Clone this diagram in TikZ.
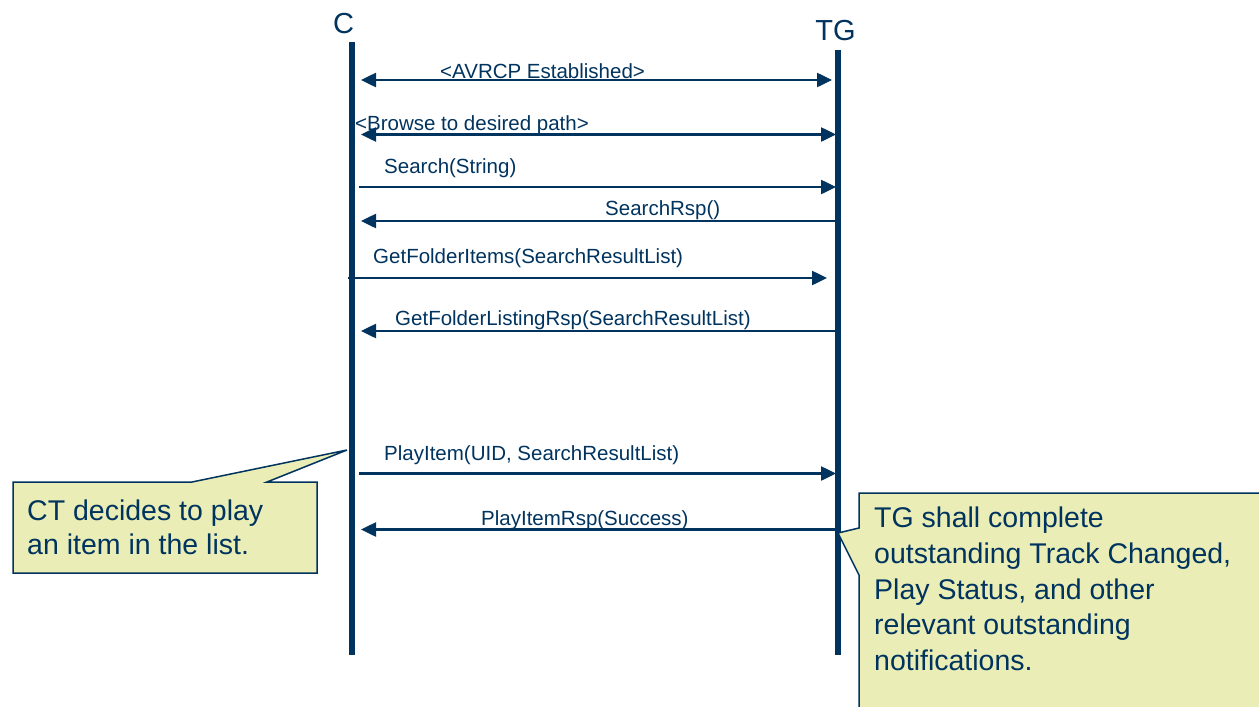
\documentclass[tikz,border=0pt]{standalone}
\usepackage{fontspec}
\setmainfont{Liberation Sans}
\definecolor{seqnavy}{RGB}{0,51,94}
\definecolor{notefill}{RGB}{234,238,182}
\usetikzlibrary{arrows.meta}

\begin{document}
\begin{tikzpicture}[x=1pt, y=-1pt,
  every node/.style={text=seqnavy, inner sep=0pt},
  lifeline/.style={seqnavy, line width=5.5pt},
  msgline/.style={seqnavy, line width=2.5pt, -{Triangle[length=15pt,width=14pt]}},
  msgboth/.style={msgline, {Triangle[length=15pt,width=14pt]}-{Triangle[length=15pt,width=14pt]}},
  msglabel/.style={anchor=base west, font=\fontsize{20.5}{24}\selectfont},
  partlabel/.style={anchor=base, font=\fontsize{29}{32}\selectfont},
  callout/.style={draw=seqnavy, fill=notefill, line width=1.5pt},
  notetext/.style={anchor=north west, align=left}]

\useasboundingbox (0,0) rectangle (1259,707);

% participants
\node[partlabel] (C) at (343.5,33) {C};
\node[partlabel] (TG) at (835.5,40.5) {TG};
\coordinate (Ctop) at (352,42);
\coordinate (Cbot) at (352,655);
\coordinate (Ttop) at (838,49.5);
\coordinate (Tbot) at (838,655);
\draw[lifeline] (Ctop) -- (Cbot);
\draw[lifeline] (Ttop) -- (Tbot);

% messages
\coordinate (c1) at (361,80);    \coordinate (t1) at (832,80);
\coordinate (c2) at (361,134.5); \coordinate (t2) at (836,134.5);
\coordinate (c3) at (359,187);   \coordinate (t3) at (836,187);
\coordinate (c4) at (361,221);   \coordinate (t4) at (836,221);
\coordinate (c5) at (348,278);   \coordinate (t5) at (827,278);
\coordinate (c6) at (361,331);   \coordinate (t6) at (836,331);
\coordinate (c7) at (359,473.5); \coordinate (t7) at (836,473.5);
\coordinate (c8) at (361,529.5); \coordinate (t8) at (836,529.5);

\draw[msgboth] (c1) -- (t1);
\draw[msgboth] (c2) -- (t2);
\draw[msgline] (c3) -- (t3);
\draw[msgline] (t4) -- (c4);
\draw[msgline] (c5) -- (t5);
\draw[msgline] (t6) -- (c6);
\draw[msgline] (c7) -- (t7);
\draw[msgline] (t8) -- (c8);

\node[msglabel] (avrcp) at (440,78) {<AVRCP Established>};
\node[msglabel] (browse) at (355,130) {<Browse to desired path>};
\node[msglabel] (search) at (384,173) {Search(String)};
\node[msglabel] (searchrsp) at (605,215) {SearchRsp()};
\node[msglabel] (getitems) at (373,263) {GetFolderItems(SearchResultList)};
\node[msglabel] (getrsp) at (395,325) {GetFolderListingRsp(SearchResultList)};
\node[msglabel] (play) at (384,460) {PlayItem(UID, SearchResultList)};
\node[msglabel] (playrsp) at (481,525) {PlayItemRsp(Success)};

% notes
\draw[callout] (13,482) -- (192,482) -- (347,450) -- (267,482) -- (317,482)
  -- (317,573) -- (13,573) -- cycle;
\node[notetext, font=\fontsize{28.5}{34}\selectfont] (ctnote) at (27,499.6)
  {CT decides to play\\an item in the list.};

\draw[callout] (859,575) -- (838,533) -- (859,528) -- (859,493) -- (1266,493)
  -- (1266,714) -- (859,714) -- cycle;
\node[notetext, font=\fontsize{28.5}{35.8}\selectfont] (tgnote) at (874,506.6)
  {TG shall complete\\outstanding Track Changed,\\Play Status, and other\\relevant outstanding\\notifications.};
\end{tikzpicture}
\end{document}
